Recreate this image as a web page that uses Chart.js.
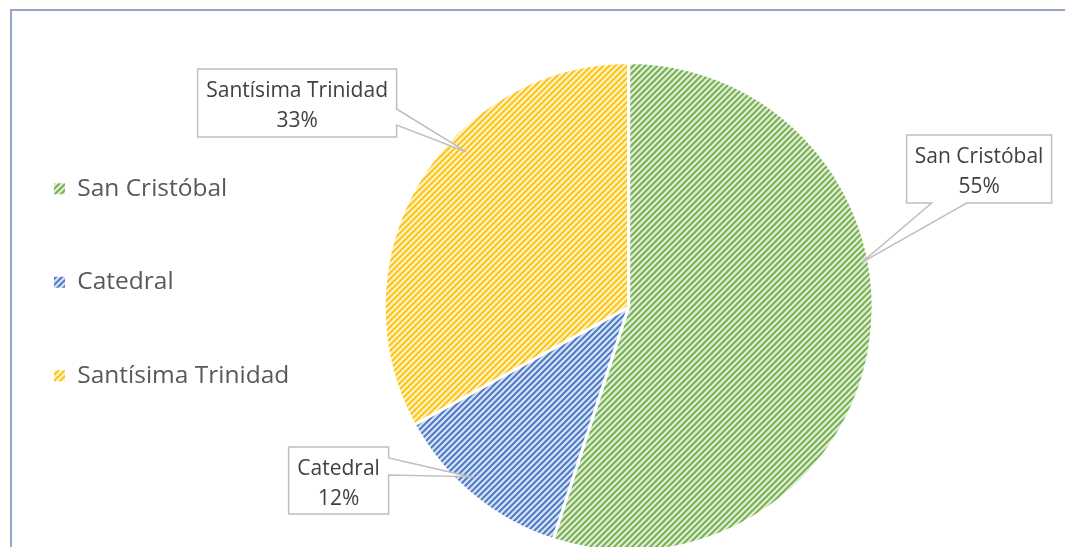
<!DOCTYPE html>
<html>
<head>
<meta charset="utf-8">
<script src="https://cdn.jsdelivr.net/npm/chart.js@4/dist/chart.umd.min.js"></script>
<style>
  html, body { margin: 0; padding: 0; background: #fff; overflow: hidden; }
  #wrap { position: relative; width: 1065px; height: 547px; overflow: hidden; background: #fff; }
  #pie { position: absolute; left: -15px; top: 0; }
</style>
</head>
<body>
<div id="wrap">
  <canvas id="pie" width="1080" height="580"></canvas>
</div>
<script>
const categories = ['San Cristóbal', 'Catedral', 'Santísima Trinidad'];
const shares = [55, 12, 33];
const shareLabels = ['55%', '12%', '33%'];

const stripeColors = ['#70ad47', '#4472c4', '#ffc000'];
const stripeBacks = ['#dcebd2', '#d2def2', '#fff0c4'];

// diagonal hatch fill, like the Office "wide upward diagonal" pattern
function hatch(fg, bg) {
    const size = 6;
    const c = document.createElement('canvas');
    c.width = size;
    c.height = size;
    const g = c.getContext('2d');
    g.fillStyle = bg;
    g.fillRect(0, 0, size, size);
    g.strokeStyle = fg;
    g.lineWidth = 1.8;
    g.beginPath();
    g.moveTo(-1, size + 1);
    g.lineTo(size + 1, -1);
    g.moveTo(-1, 1);
    g.lineTo(1, -1);
    g.moveTo(size - 1, size + 1);
    g.lineTo(size + 1, size - 1);
    g.stroke();
    return g.createPattern(c, 'repeat');
}

const fills = stripeColors.map((c, i) => hatch(c, stripeBacks[i]));

// chart area outline (only the top and left edges are on screen)
const framePlugin = {
    id: 'frame',
    beforeDraw(chart) {
        const ctx = chart.ctx;
        ctx.save();
        ctx.strokeStyle = '#93a7c4';
        ctx.lineWidth = 2;
        ctx.beginPath();
        ctx.moveTo(26, chart.height + 5);
        ctx.lineTo(26, 10);
        ctx.lineTo(chart.width + 5, 10);
        ctx.stroke();
        ctx.restore();
    }
};

// callout boxes: offsets from the pie centre, wedge side and anchor on the slice
const callouts = [
    { dx: 350.5, dy: -138, w: 145, h: 68, side: 'bottom', from: 25, to: 60, t: 0.40, r: 0.97 },
    { dx: -290, dy: 173.5, w: 100, h: 67, side: 'right', from: 11, to: 28, t: 0.58, r: 0.95 },
    { dx: -331.5, dy: -204, w: 199, h: 68, side: 'right', from: 40, to: 56, t: 0.61, r: 0.92 }
];

const calloutPlugin = {
    id: 'callouts',
    afterDatasetsDraw(chart) {
        const ctx = chart.ctx;
        const arcs = chart.getDatasetMeta(0).data;
        arcs.forEach((arc, i) => {
            const p = arc.getProps(['x', 'y', 'startAngle', 'endAngle', 'outerRadius'], true);
            const o = callouts[i];
            const a = p.startAngle + o.t * (p.endAngle - p.startAngle);
            const ax = p.x + Math.cos(a) * p.outerRadius * o.r;
            const ay = p.y + Math.sin(a) * p.outerRadius * o.r;
            const left = p.x + o.dx - o.w / 2;
            const top = p.y + o.dy - o.h / 2;
            const right = left + o.w;
            const bottom = top + o.h;

            ctx.save();
            ctx.beginPath();
            ctx.moveTo(left, top);
            ctx.lineTo(right, top);
            if (o.side === 'right') {
                ctx.lineTo(right, top + o.from);
                ctx.lineTo(ax, ay);
                ctx.lineTo(right, top + o.to);
            }
            ctx.lineTo(right, bottom);
            if (o.side === 'bottom') {
                ctx.lineTo(left + o.to, bottom);
                ctx.lineTo(ax, ay);
                ctx.lineTo(left + o.from, bottom);
            }
            ctx.lineTo(left, bottom);
            ctx.closePath();
            ctx.fillStyle = '#ffffff';
            ctx.fill();
            ctx.lineWidth = 1.5;
            ctx.strokeStyle = '#bfbfbf';
            ctx.stroke();

            ctx.fillStyle = '#404040';
            ctx.font = '21px "Open Sans"';
            ctx.textAlign = 'center';
            ctx.textBaseline = 'alphabetic';
            const cx = (left + right) / 2;
            const cy = (top + bottom) / 2;
            ctx.fillText(categories[i], cx, cy - 6);
            ctx.fillText(shareLabels[i], cx, cy + 24);
            ctx.restore();
        });
    }
};

new Chart(document.getElementById('pie'), {
    type: 'pie',
    data: {
        labels: categories,
        datasets: [{
            data: shares,
            backgroundColor: fills,
            borderColor: '#ffffff',
            borderWidth: 3
        }]
    },
    options: {
        responsive: false,
        animation: false,
        layout: { padding: { top: 61, bottom: 27, left: 0, right: 107 } },
        plugins: {
            tooltip: { enabled: false },
            legend: {
                position: 'left',
                align: 'start',
                title: { display: true, text: '', padding: { top: 32.1, bottom: 0 }, font: { size: 12 } },
                labels: {
                    font: { family: 'Open Sans', size: 24.5 },
                    color: '#595959',
                    boxWidth: 11,
                    boxHeight: 11,
                    padding: 69,
                    generateLabels: chart => categories.map((text, i) => ({
                        text,
                        fillStyle: fills[i],
                        strokeStyle: 'rgba(0,0,0,0)',
                        lineWidth: 0,
                        fontColor: '#595959',
                        hidden: false,
                        index: i
                    }))
                }
            }
        }
    },
    plugins: [framePlugin, calloutPlugin]
});
</script>
</body>
</html>
